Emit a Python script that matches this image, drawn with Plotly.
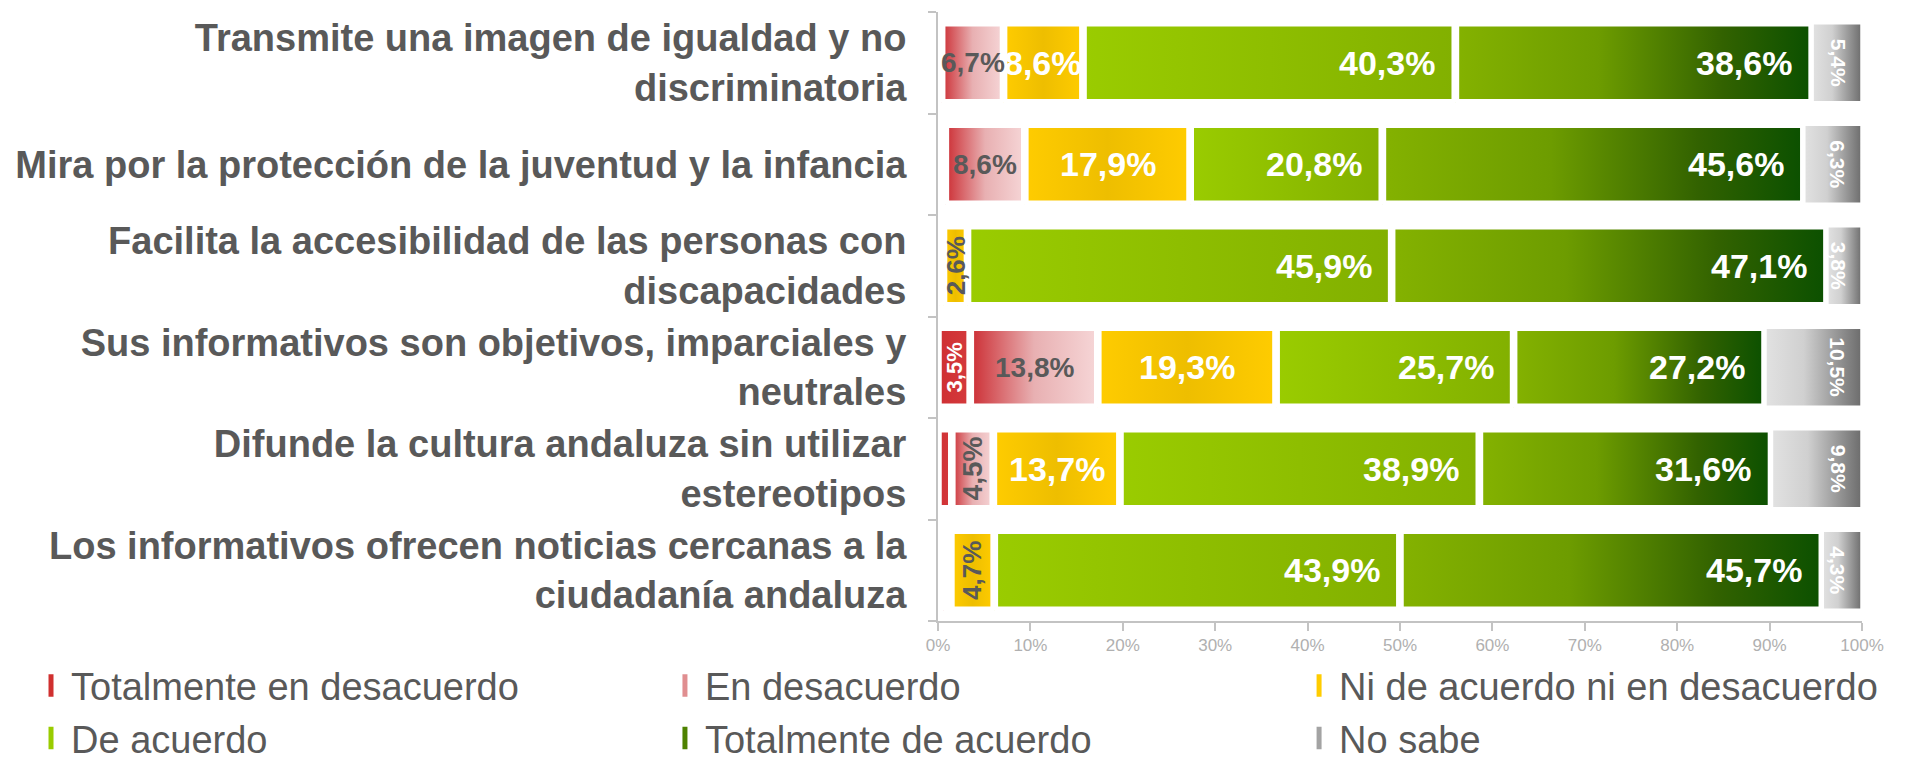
import plotly.graph_objects as go

# ---------------- data ----------------
categories = [
    "Transmite una imagen de igualdad y no<br>discriminatoria",
    "Mira por la protección de la juventud y la infancia",
    "Facilita la accesibilidad de las personas con<br>discapacidades",
    "Sus informativos son objetivos, imparciales y<br>neutrales",
    "Difunde la cultura andaluza sin utilizar<br>estereotipos",
    "Los informativos ofrecen noticias cercanas a la<br>ciudadanía andaluza",
]
series_names = [
    "Totalmente en desacuerdo",
    "En desacuerdo",
    "Ni de acuerdo ni en desacuerdo",
    "De acuerdo",
    "Totalmente de acuerdo",
    "No sabe",
]
totalmente_desacuerdo = [0.4, 0.8, 0.2, 3.5, 1.5, 0.6]
en_desacuerdo = [6.7, 8.6, 0.4, 13.8, 4.5, 0.8]
ni_ni = [8.6, 17.9, 2.6, 19.3, 13.7, 4.7]
de_acuerdo = [40.3, 20.8, 45.9, 25.7, 38.9, 43.9]
totalmente_acuerdo = [38.6, 45.6, 47.1, 27.2, 31.6, 45.7]
no_sabe = [5.4, 6.3, 3.8, 10.5, 9.8, 4.3]
x_tick_values = [0, 10, 20, 30, 40, 50, 60, 70, 80, 90, 100]
x_tick_labels = ["0%", "10%", "20%", "30%", "40%", "50%", "60%", "70%", "80%", "90%", "100%"]

series_values = [totalmente_desacuerdo, en_desacuerdo, ni_ni,
                 de_acuerdo, totalmente_acuerdo, no_sabe]

# ---------------- style ----------------
FONT = "Arial, 'Liberation Sans', sans-serif"
GRAY_TXT = "#595959"
AXIS_GRAY = "#c3c3c3"
gradients = [
    [[0, "#cf2f33"], [1, "#d43a3c"]],
    [[0, "#cc2d33"], [0.5, "#e8b0b2"], [1, "#f6d6d7"]],
    [[0, "#ffcc00"], [0.5, "#eebe00"], [1, "#ffcc00"]],
    [[0, "#9acc00"], [1, "#82b000"]],
    [[0, "#84b200"], [0.4, "#6d9c00"], [0.75, "#326200"], [1, "#0b5000"]],
    [[0, "#e2e2e2"], [0.4, "#d0d0d0"], [1, "#6b6b6b"]],
]
legend_colors = ["#d0302f", "#e08e90", "#ffcc00", "#99cc00", "#4e8200", "#a3a3a3"]
border_w = [7.5, 7.5, 7.5, 7.5, 7.5, 3.5]
HALF = 0.395

n = len(categories)
ypos = [n - 1 - i for i in range(n)]

fig = go.Figure()
annotations = []


def fmt(v):
    return f"{v:.1f}".replace(".", ",") + "%"


for i in range(n):
    yc = ypos[i]
    start = 0.0
    for j, vals in enumerate(series_values):
        v = vals[i]
        end = start + v
        fig.add_trace(go.Scatter(
            x=[start, end, end, start, start],
            y=[yc - HALF, yc - HALF, yc + HALF, yc + HALF, yc - HALF],
            mode="lines",
            fill="toself",
            fillgradient=dict(type="horizontal", colorscale=gradients[j]),
            line=dict(color="white", width=border_w[j]),
            legendgroup=series_names[j],
            showlegend=False,
            hoverinfo="skip",
        ))
        mid = (start + end) / 2
        txt = fmt(v)
        if j == 0 and v >= 2:
            annotations.append(dict(x=mid, y=yc, text=txt, textangle=-90,
                                    font=dict(size=22, color="white", weight="bold", family=FONT)))
        elif j == 1 and v >= 2:
            annotations.append(dict(x=mid, y=yc, text=txt, textangle=-90 if v < 6 else 0,
                                    font=dict(size=28, color=GRAY_TXT, weight="bold", family=FONT)))
        elif j == 2 and v >= 2:
            if v >= 6:
                annotations.append(dict(x=mid, y=yc, text=txt,
                                        font=dict(size=34, color="white", weight="bold", family=FONT)))
            else:
                annotations.append(dict(x=mid, y=yc, text=txt, textangle=-90,
                                        font=dict(size=26, color=GRAY_TXT, weight="bold", family=FONT)))
        elif j in (3, 4):
            annotations.append(dict(x=end, y=yc, text=txt, xanchor="right", xshift=-18,
                                    font=dict(size=34, color="white", weight="bold", family=FONT)))
        elif j == 5:
            annotations.append(dict(x=end, y=yc, text=txt, textangle=90, xshift=-24,
                                    font=dict(size=21, color="white", weight="bold", family=FONT)))
        start = end

# legend entries: three columns, each a vertical legend
legend_ids = ["legend", "legend2", "legend3"]
for j, name in enumerate(series_names):
    fig.add_trace(go.Scatter(
        x=[None], y=[None], mode="markers", name=name,
        legendgroup=name, showlegend=True, legend=legend_ids[j % 3],
        marker=dict(symbol="line-ns", size=17,
                    line=dict(width=5, color=legend_colors[j]), color=legend_colors[j]),
    ))

for a in annotations:
    a.update(xref="x", yref="y", showarrow=False)

boundaries = [k - 0.5 for k in range(n + 1)]

legend_font = dict(family=FONT, size=38, color=GRAY_TXT)
common_leg = dict(orientation="v", xref="container", yref="container",
                  y=0.1405, xanchor="left", yanchor="top",
                  font=legend_font, itemsizing="trace", traceorder="normal",
                  bgcolor="rgba(0,0,0,0)")

fig.update_layout(
    width=1902, height=752,
    margin=dict(l=930, r=48, t=4, b=139, autoexpand=False),
    plot_bgcolor="white", paper_bgcolor="white",
    font=dict(family=FONT, color=GRAY_TXT),
    annotations=annotations,
    showlegend=True,
    legend=dict(x=0.0121, **common_leg),
    legend2=dict(x=0.3454, **common_leg),
    legend3=dict(x=0.6788, **common_leg),
    xaxis=dict(
        range=[0, 100], tickmode="array", tickvals=x_tick_values, ticktext=x_tick_labels,
        showgrid=False, zeroline=False,
        showline=True, linecolor=AXIS_GRAY, linewidth=2,
        ticks="outside", ticklen=8, tickcolor=AXIS_GRAY, tickwidth=2,
        tickfont=dict(size=17, color="#b0b0b0", family=FONT),
    ),
    yaxis=dict(
        range=[-0.5, n - 0.5], tickvals=ypos, ticktext=categories,
        showgrid=False, zeroline=False,
        showline=True, linecolor=AXIS_GRAY, linewidth=2,
        ticks="", ticklabelstandoff=22,
        minor=dict(tickvals=boundaries, ticks="outside", ticklen=8,
                   tickcolor=AXIS_GRAY, tickwidth=2),
        tickfont=dict(size=38, color=GRAY_TXT, family=FONT, weight="bold"),
    ),
)

fig.write_html("out.html")
